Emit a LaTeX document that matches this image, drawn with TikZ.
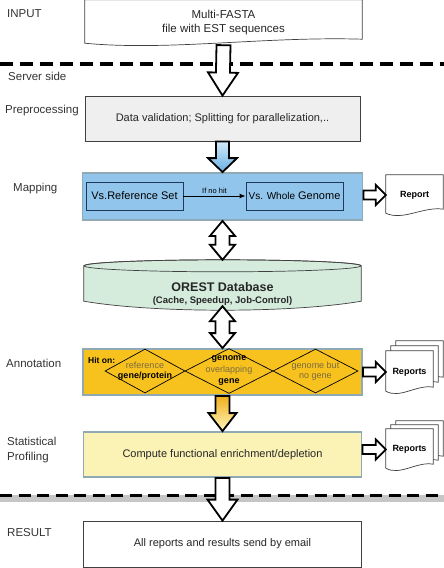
\documentclass[tikz,border=0pt]{standalone}
\usepackage{fontspec}
\setmainfont{Liberation Sans}
\usepackage{xcolor}
\usepackage{tikz}
\usetikzlibrary{arrows.meta,shapes,calc}
\usetikzlibrary{positioning}
\usetikzlibrary{backgrounds}
\definecolor{mapblue}{HTML}{92C5EB}
\definecolor{framegray}{HTML}{8FA9B5}
\definecolor{annoyel}{HTML}{F7C21E}
\definecolor{statyel}{HTML}{FBF2B6}
\definecolor{dbgreen}{HTML}{D5ECDD}
\definecolor{pregray}{HTML}{EFEFEF}
\definecolor{dimtext}{HTML}{7A6A40}
\definecolor{innerline}{HTML}{1E3A5A}
\definecolor{blueA}{HTML}{D3EAF9}
\definecolor{blueB}{HTML}{67AFE3}
\definecolor{yelA}{HTML}{F0AE1C}
\definecolor{yelB}{HTML}{FFF7BC}
\tikzstyle{sidelabel}=[anchor=base west,inner sep=0,align=left,
  font=\fontsize{11.5}{14.5}\selectfont,text=black!80]
\tikzstyle{stage}=[rectangle,draw=black!75,line width=0.8pt,inner sep=0,
  align=center,font=\fontsize{11}{14}\selectfont,text=black!85]
\tikzstyle{phase}=[stage,draw=framegray,line width=1.8pt]
\tikzstyle{subbox}=[rectangle,draw=innerline,line width=0.9pt,inner sep=0,
  minimum width=97pt,minimum height=28pt,font=\fontsize{11}{13}\selectfont]
\tikzstyle{docnode}=[rectangle,inner sep=0,align=center,
  font=\fontsize{9}{11}\selectfont\bfseries]
\tikzstyle{docline}=[draw=black!75,line width=0.7pt,fill=white]
\tikzstyle{hit}=[diamond,draw=black,line width=0.7pt,inner sep=0]
\tikzstyle{hittext}=[inner sep=0,align=center,text=dimtext,
  font=\fontsize{9}{10.5}\selectfont]
\tikzstyle{fat}=[draw=black,line width=1.8pt,line join=miter,fill=white]
\tikzstyle{divider}=[line width=3.5pt,dash pattern=on 13pt off 7pt]
% hollow block arrow: [fill]{from}{to}{shaft}{head}{head length}
\newcommand{\fatarrow}[6][]{%
  \path (#2) coordinate (fa-s) (#3) coordinate (fa-t);
  \path ($(fa-t)!#6!(fa-s)$) coordinate (fa-h);
  \filldraw[fat,#1] ($(fa-s)!#4!90:(fa-t)$) -- ($(fa-h)!#4!90:(fa-t)$)
    -- ($(fa-h)!#5!90:(fa-t)$) -- (fa-t) -- ($(fa-h)!#5!-90:(fa-t)$)
    -- ($(fa-h)!#4!-90:(fa-t)$) -- ($(fa-s)!#4!-90:(fa-t)$) -- cycle;}
\newcommand{\dblarrow}[6][]{%
  \path (#2) coordinate (fa-s) (#3) coordinate (fa-t);
  \path ($(fa-t)!#6!(fa-s)$) coordinate (fa-h) ($(fa-s)!#6!(fa-t)$) coordinate (fa-g);
  \filldraw[fat,#1] (fa-s) -- ($(fa-g)!#5!90:(fa-t)$) -- ($(fa-g)!#4!90:(fa-t)$)
    -- ($(fa-h)!#4!90:(fa-t)$) -- ($(fa-h)!#5!90:(fa-t)$) -- (fa-t)
    -- ($(fa-h)!#5!-90:(fa-t)$) -- ($(fa-h)!#4!-90:(fa-t)$)
    -- ($(fa-g)!#4!-90:(fa-t)$) -- ($(fa-g)!#5!-90:(fa-t)$) -- cycle;}
% page with wavy bottom round a node, shifted by (#2,#3)
\newcommand{\docpage}[3]{%
  \filldraw[docline]
    ($(#1.north west)+(#2,#3)$) -- ($(#1.north east)+(#2,#3)$)
    -- ($(#1.south east)+(#2,#3-6)$)
    .. controls ($(#1.south west)!0.65!(#1.south east)+(#2,#3-9)$)
    and ($(#1.south west)!0.3!(#1.south east)+(#2,#3+6)$)
    .. ($(#1.south west)+(#2,#3-2)$) -- cycle;}
\begin{document}
\begin{tikzpicture}[x=1pt,y=-1pt]
	\useasboundingbox (0,0) rectangle (444,568);
	
	% side labels
	\node[sidelabel] (lin) at (7,17) {INPUT};
	\node[sidelabel] (lsrv) at (8,80) {Server side};
	\node[sidelabel] (lpre) at (5,113) {Preprocessing};
	\node[sidelabel] (lmap) at (13,191) {Mapping};
	\node[sidelabel] (lann) at (6,367) {Annotation};
	\node[sidelabel,anchor=west] (lstat) at (7,450) {Statistical\\Profiling};
	\node[sidelabel] (lres) at (7,536) {RESULT};
	
	% separators
	\draw[divider] (0,64) -- (444,64);
	\draw[line width=7pt,gray!45] (0,498) -- (444,498);
	\draw[divider,line width=3pt,dash pattern=on 12pt off 6.5pt] (0,495.5) -- (444,495.5);
	
	% stages
	\node[docnode,font=\fontsize{11.5}{14}\selectfont,text=black!85,
	  minimum width=277pt,minimum height=45pt] (inp) at (223.5,22.5)
	  {Multi-FASTA\\file with EST sequences};
	\node[stage,fill=pregray,minimum width=275pt,minimum height=45pt] (pre)
	  at (222.5,118.5) {Data validation; Splitting for parallelization,..};
	\node[phase,fill=mapblue,minimum width=280pt,minimum height=47pt] (map)
	  at (222.5,196.5) {};
	\node[subbox] (refset) at (134.5,196) {Vs.Reference Set};
	\node[subbox] (whole) at (294.5,196)
	  {{\fontsize{10}{12}\selectfont Vs. Whole} Genome};
	\draw[-{Latex[length=6pt,width=5pt]},line width=1pt] (refset) -- 
	node [above,inner sep=1.5pt,font=\fontsize{7.5}{9}\selectfont] {If no hit} (whole);
	
	\node[minimum width=277pt,minimum height=46pt,inner sep=0] (db) at (222.5,283) {};
	\node[anchor=base,inner sep=0,font=\fontsize{12.5}{14}\selectfont\bfseries,
	  text=black!85] (dbtitle) at (222.5,291.5) {OREST Database};
	\node[anchor=base,inner sep=0,font=\fontsize{9.5}{11}\selectfont\bfseries,
	  text=black!85] (dbnote) at (222.5,303.5) {(Cache, Speedup, Job-Control)};
	
	\node[phase,fill=annoyel,minimum width=279pt,minimum height=46pt] (annot)
	  at (222.5,372) {};
	\node[hit,minimum width=80pt,minimum height=44pt] (dref) at (145,371) {};
	\node[hit,minimum width=88pt,minimum height=45pt] (dgen) at (229,371) {};
	\node[hit,minimum width=85pt,minimum height=44pt] (dnog) at (315.5,371) {};
	\node[hittext] (tref) at (dref) {reference\\\textcolor{black}{\bfseries gene/protein}};
	\node[hittext,font=\fontsize{9}{11.5}\selectfont] (tgen) at (dgen)
	  {\textcolor{black}{\bfseries genome}\\overlapping\\\textcolor{black}{\bfseries gene}};
	\node[hittext,font=\fontsize{9}{9.5}\selectfont] (tnog) at (dnog) {genome but\\no gene};
	\node[anchor=base west,inner sep=0,font=\fontsize{8.5}{10}\selectfont\bfseries]
	  (hiton) at (88,363) {Hit on:};
	
	\node[phase,fill=statyel,minimum width=278pt,minimum height=45pt] (stat)
	  at (222.5,454.5) {Compute functional enrichment/depletion};
	\node[stage,fill=white,minimum width=278pt,minimum height=46pt] (res)
	  at (222.5,544) {All reports and results send by email};
	
	% reports
	\node[docnode,minimum width=57pt,minimum height=40pt] (rep1) at (414.5,195) {Report};
	\node[docnode,minimum width=47pt,minimum height=42pt] (repA) at (409.5,372) {Reports};
	\node[docnode,minimum width=47pt,minimum height=41pt] (repB) at (409.5,449.5) {Reports};
	
	\begin{scope}[on background layer]
		\docpage{inp}{0}{0}
		\docpage{rep1}{0}{0}
		\docpage{repA}{10}{-10}
		\docpage{repA}{5}{-5}
		\docpage{repA}{0}{0}
		\docpage{repB}{10}{-8}
		\docpage{repB}{5}{-4}
		\docpage{repB}{0}{0}
		% database drum
		\filldraw[draw=black!75,line width=0.7pt,fill=dbgreen]
		  ($(db.north west)+(0,6)$) -- ($(db.south west)+(0,-5)$)
		  .. controls ($(db.south west)+(70,7)$) and ($(db.south east)+(-70,7)$)
		  .. ($(db.south east)+(0,-5)$) -- ($(db.north east)+(0,6)$)
		  arc[start angle=0,end angle=180,x radius=138.5pt,y radius=6pt] -- cycle;
		\draw[black!75,line width=0.7pt] ($(db.north)+(0,6)$)
		  ellipse[x radius=138.5pt,y radius=6pt];
	\end{scope}
	
	% flow
	\fatarrow{inp.south}{pre.north}{7pt}{15pt}{23pt}
	\fatarrow[top color=blueA,bottom color=blueB]{pre.south}{map.north}{6.5pt}{14.5pt}{14pt}
	\dblarrow{map.south}{db.north}{7pt}{12.5pt}{15pt}
	\dblarrow{db.south}{annot.north}{7pt}{12.5pt}{15pt}
	\fatarrow[top color=yelA,bottom color=yelB]{annot.south}{stat.north}{7pt}{14pt}{18pt}
	\fatarrow{stat.south}{res.north}{7pt}{15pt}{21pt}
	
	\fatarrow{map.east |- rep1.west}{rep1.west}{4.5pt}{10pt}{10pt}
	\fatarrow{annot.east |- repA.west}{repA.west}{4.5pt}{10pt}{10pt}
	\fatarrow{stat.east |- repB.west}{repB.west}{4.5pt}{10pt}{10pt}

\end{tikzpicture}
\end{document}
